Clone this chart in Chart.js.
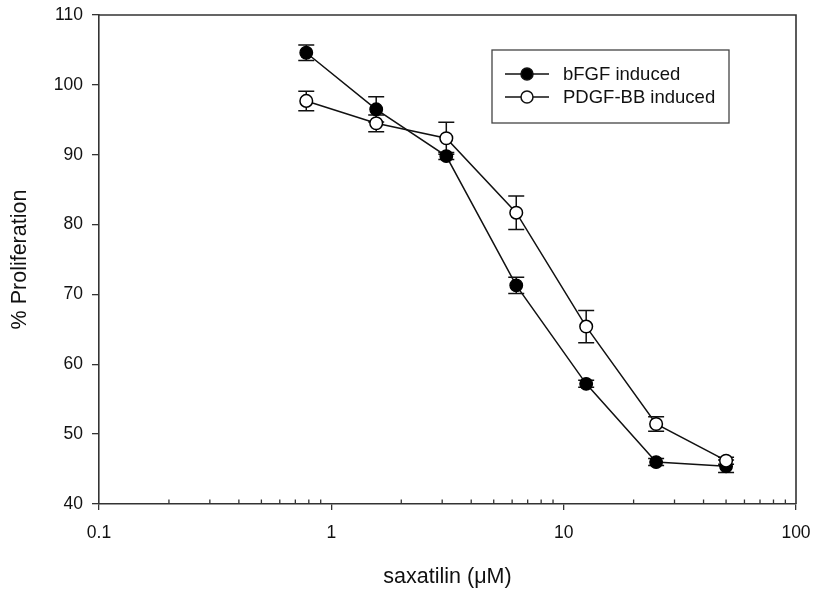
<!DOCTYPE html>
<html>
<head>
<meta charset="utf-8">
<script src="https://cdn.jsdelivr.net/npm/chart.js@4"></script>
<style>
  body { margin: 0; background: #fff; }
  #wrap { width: 817px; height: 590px; }
</style>
</head>
<body>
<div id="wrap"><canvas id="chart" width="817" height="590"></canvas></div>
<script>
// saxatilin concentrations (uM)
const doses = [0.78, 1.56, 3.125, 6.25, 12.5, 25, 50];
const bfgf = [104.6, 96.5, 89.8, 71.3, 57.2, 46.0, 45.4];
const bfgfErr = [1.1, 1.8, 0.5, 1.15, 0.5, 0.5, 0.9];
const pdgf = [97.7, 94.5, 92.35, 81.7, 65.4, 51.45, 46.2];
const pdgfErr = [1.4, 1.2, 2.3, 2.4, 2.3, 1.05, 0.5];
const xTicks = [0.1, 1, 10, 100];
const xMinor = [0.2, 0.3, 0.4, 0.5, 0.6, 0.7, 0.8, 0.9, 2, 3, 4, 5, 6, 7, 8, 9, 20, 30, 40, 50, 60, 70, 80, 90];
const seriesNames = ['bFGF induced', 'PDGF-BB induced'];

const FONT = "Arial, 'Liberation Sans', sans-serif";
const INK = '#111';

const toPts = (ys) => doses.map((d, i) => ({ x: d, y: ys[i] }));

// error bars under the markers
const errorBars = {
    id: 'errorBars',
    beforeDatasetsDraw(chart) {
        const ctx = chart.ctx;
        const xs = chart.scales.x, ys = chart.scales.y;
        const sets = [[bfgf, bfgfErr], [pdgf, pdgfErr]];
        ctx.save();
        ctx.strokeStyle = INK;
        ctx.lineWidth = 1.5;
        sets.forEach(([vals, errs]) => {
            doses.forEach((d, i) => {
                const px = xs.getPixelForValue(d);
                const top = ys.getPixelForValue(vals[i] + errs[i]);
                const bot = ys.getPixelForValue(vals[i] - errs[i]);
                ctx.beginPath();
                ctx.moveTo(px, top); ctx.lineTo(px, bot);
                ctx.moveTo(px - 8, top); ctx.lineTo(px + 8, top);
                ctx.moveTo(px - 8, bot); ctx.lineTo(px + 8, bot);
                ctx.stroke();
            });
        });
        ctx.restore();
    }
};

// box frame, minor log ticks, legend
const frame = {
    id: 'frame',
    afterDraw(chart) {
        const ctx = chart.ctx;
        const a = chart.chartArea;
        const xs = chart.scales.x;
        ctx.save();
        ctx.strokeStyle = '#333';
        ctx.lineWidth = 1.6;
        ctx.beginPath();
        ctx.moveTo(a.left, a.top); ctx.lineTo(a.right, a.top); ctx.lineTo(a.right, a.bottom);
        ctx.stroke();

        ctx.lineWidth = 1.3;
        ctx.beginPath();
        xMinor.forEach(v => {
            const px = xs.getPixelForValue(v);
            ctx.moveTo(px, a.bottom); ctx.lineTo(px, a.bottom - 4.5);
        });
        ctx.stroke();

        // legend
        const lx = 492, ly = 50, lw = 237, lh = 73;
        ctx.strokeStyle = '#444';
        ctx.lineWidth = 1.3;
        ctx.strokeRect(lx, ly, lw, lh);
        ctx.font = '18.5px ' + FONT;
        ctx.textBaseline = 'middle';
        seriesNames.forEach((name, i) => {
            const y = 74 + i * 23;
            ctx.strokeStyle = INK;
            ctx.lineWidth = 1.5;
            ctx.beginPath();
            ctx.moveTo(505, y); ctx.lineTo(549, y);
            ctx.stroke();
            ctx.beginPath();
            ctx.arc(527, y, 6, 0, Math.PI * 2);
            ctx.fillStyle = i === 0 ? '#000' : '#fff';
            ctx.fill();
            ctx.stroke();
            ctx.fillStyle = INK;
            ctx.fillText(name, 563, y + 1);
        });
        ctx.restore();
    }
};

new Chart(document.getElementById('chart'), {
    type: 'scatter',
    data: {
        datasets: [
            {
                label: seriesNames[0],
                data: toPts(bfgf),
                showLine: true,
                borderColor: INK,
                borderWidth: 1.5,
                pointRadius: 6.3,
                pointBackgroundColor: '#000',
                pointBorderColor: '#000',
                pointBorderWidth: 1.3,
                order: 1
            },
            {
                label: seriesNames[1],
                data: toPts(pdgf),
                showLine: true,
                borderColor: INK,
                borderWidth: 1.5,
                pointRadius: 6.3,
                pointBackgroundColor: '#fff',
                pointBorderColor: '#000',
                pointBorderWidth: 1.5,
                order: 0
            }
        ]
    },
    options: {
        responsive: false,
        animation: false,
        layout: { padding: { top: 15, right: 21, left: 0, bottom: 0 } },
        plugins: {
            legend: { display: false },
            tooltip: { enabled: false }
        },
        scales: {
            x: {
                type: 'logarithmic',
                min: 0.1,
                max: 100,
                afterBuildTicks: (axis) => { axis.ticks = xTicks.map(v => ({ value: v })); },
                afterFit: (axis) => { axis.height = 86; axis.paddingLeft = 0; axis.paddingRight = 0; },
                grid: { display: true, drawOnChartArea: false, drawTicks: true, tickLength: 6, color: '#333', lineWidth: 1.3 },
                border: { display: true, color: '#333', width: 1.6 },
                ticks: {
                    autoSkip: false,
                    maxRotation: 0,
                    padding: 13,
                    color: INK,
                    font: { family: FONT, size: 17.5 },
                    callback: (v) => String(v)
                },
                title: {
                    display: true,
                    text: 'saxatilin (\u03bcM)',
                    color: INK,
                    font: { family: FONT, size: 21.5 },
                    padding: { top: 0, bottom: 0 }
                }
            },
            y: {
                min: 40,
                max: 110,
                afterFit: (axis) => { axis.width = 99; axis.paddingTop = 0; axis.paddingBottom = 0; },
                grid: { display: true, drawOnChartArea: false, drawTicks: true, tickLength: 7, color: '#333', lineWidth: 1.3 },
                border: { display: true, color: '#333', width: 1.6 },
                ticks: {
                    stepSize: 10,
                    padding: 9,
                    color: INK,
                    font: { family: FONT, size: 17.5 }
                },
                title: {
                    display: true,
                    text: '% Proliferation',
                    color: INK,
                    font: { family: FONT, size: 21.5 },
                    padding: { top: 7, bottom: 0 }
                }
            }
        }
    },
    plugins: [errorBars, frame]
});
</script>
</body>
</html>
